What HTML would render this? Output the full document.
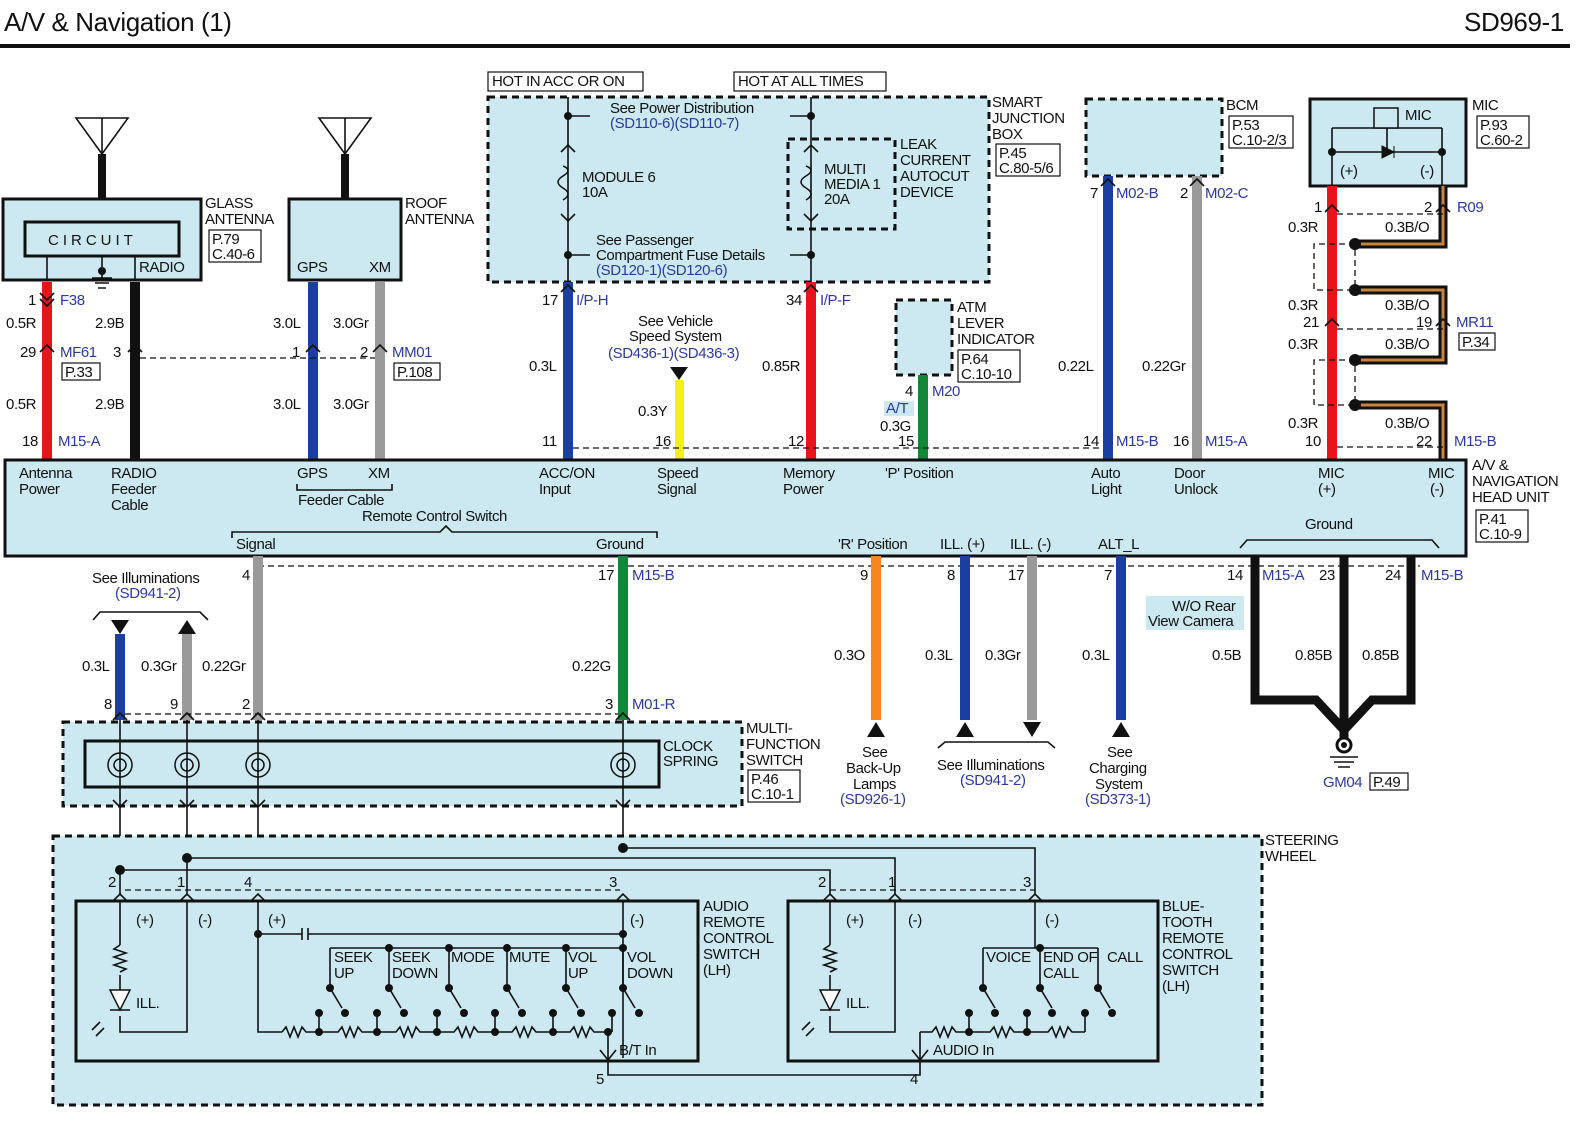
<!DOCTYPE html>
<html><head><meta charset="utf-8"><style>
html,body{margin:0;padding:0;background:#fff}
svg{display:block}
text{font-family:"Liberation Sans",sans-serif;font-size:15px;fill:#111;letter-spacing:-0.4px}
.b{fill:#2b3a9c}
.box{fill:#cce8f0;stroke:#111;stroke-width:3}
.dbox{fill:#cce8f0;stroke:#111;stroke-width:3;stroke-dasharray:7,5}
.ref{fill:#fff;stroke:#111;stroke-width:1.2}
.dl{stroke:#111;stroke-width:1.3;stroke-dasharray:6,4;fill:none}
.ln{stroke:#111;stroke-width:1.6;fill:none}
.ch{stroke:#111;stroke-width:1.6;fill:none}
</style></head><body>
<svg width="1582" height="1130" viewBox="0 0 1582 1130" xmlns="http://www.w3.org/2000/svg">
<text x="4" y="31" style="font-size:26px">A/V &amp; Navigation (1)</text>
<text x="1464" y="31" style="font-size:26px">SD969-1</text>
<rect x="0" y="44" width="1570" height="4" fill="#111"/>

<!-- Glass antenna -->
<path d="M76 118 L102 154 L128 118 Z M102 118 V154" class="ln" stroke-width="2.5"/>
<rect x="98" y="154" width="8" height="44" fill="#111"/>
<rect x="3" y="199" width="198" height="81" class="box"/>
<rect x="25" y="222" width="154" height="34" class="box" stroke-width="2"/>
<text x="48" y="245" style="letter-spacing:4px">CIRCUIT</text>
<text x="139" y="272">RADIO</text>
<path d="M47 256 V280 M135 256 V280 M102 256 V278 M92 278 H112 M95 283 H109 M98 288 H106" class="ln"/>
<circle cx="102" cy="271" r="4" fill="#111"/>
<text x="205" y="208">GLASS</text><text x="205" y="224">ANTENNA</text>
<rect x="209" y="230" width="52" height="32" class="ref"/><text x="212" y="244">P.79</text><text x="212" y="259">C.40-6</text>

<!-- Roof antenna -->
<path d="M319 118 L345 154 L371 118 Z M345 118 V154" class="ln" stroke-width="2.5"/>
<rect x="341" y="154" width="8" height="44" fill="#111"/>
<rect x="289" y="199" width="112" height="81" class="box"/>
<text x="297" y="272">GPS</text><text x="369" y="272">XM</text>
<text x="405" y="208">ROOF</text><text x="405" y="224">ANTENNA</text>

<!-- wires top left -->
<rect x="42" y="282" width="10" height="178" fill="#e8141c"/>
<rect x="130" y="282" width="10" height="178" fill="#111"/>
<rect x="308" y="282" width="10" height="178" fill="#1a3fa0"/>
<rect x="375" y="282" width="10" height="178" fill="#9a9a9a"/>
<path d="M140 358 H375" class="dl"/>
<text x="28" y="305">1</text><text x="60" y="305" class="b">F38</text>
<text x="6" y="328">0.5R</text><text x="95" y="328">2.9B</text>
<text x="20" y="357">29</text><text x="60" y="357" class="b">MF61</text><text x="113" y="357">3</text>
<rect x="62" y="363" width="38" height="17" class="ref"/><text x="65" y="377">P.33</text>
<text x="6" y="409">0.5R</text><text x="95" y="409">2.9B</text>
<text x="22" y="446">18</text><text x="58" y="446" class="b">M15-A</text>
<text x="273" y="328">3.0L</text><text x="333" y="328">3.0Gr</text>
<text x="292" y="357">1</text><text x="360" y="357">2</text><text x="392" y="357" class="b">MM01</text>
<rect x="394" y="363" width="46" height="17" class="ref"/><text x="397" y="377">P.108</text>
<text x="273" y="409">3.0L</text><text x="333" y="409">3.0Gr</text>

<!-- Smart junction box -->
<rect x="488" y="72" width="155" height="19" class="ref"/><text x="492" y="86">HOT IN ACC OR ON</text>
<rect x="734" y="72" width="152" height="19" class="ref"/><text x="738" y="86">HOT AT ALL TIMES</text>
<rect x="488" y="97" width="501" height="185" class="dbox"/>
<rect x="788" y="139" width="107" height="90" class="dbox" stroke-width="2"/>
<path d="M568 97 V282 M811 97 V282 M568 116 H590 M811 116 H790 M568 255 H590 M811 255 H790" class="ln"/>
<circle cx="568" cy="116" r="4" fill="#111"/><circle cx="811" cy="116" r="4" fill="#111"/>
<circle cx="568" cy="255" r="4" fill="#111"/><circle cx="811" cy="255" r="4" fill="#111"/>
<text x="610" y="113">See Power Distribution</text><text x="610" y="128" class="b">(SD110-6)(SD110-7)</text>
<text x="582" y="182">MODULE 6</text><text x="582" y="197">10A</text>
<text x="824" y="174">MULTI</text><text x="824" y="189">MEDIA 1</text><text x="824" y="204">20A</text>
<text x="900" y="149">LEAK</text><text x="900" y="165">CURRENT</text><text x="900" y="181">AUTOCUT</text><text x="900" y="197">DEVICE</text>
<text x="596" y="245">See Passenger</text><text x="596" y="260">Compartment Fuse Details</text><text x="596" y="275" class="b">(SD120-1)(SD120-6)</text>
<text x="992" y="107">SMART</text><text x="992" y="123">JUNCTION</text><text x="992" y="139">BOX</text>
<rect x="996" y="144" width="64" height="32" class="ref"/><text x="999" y="158">P.45</text><text x="999" y="173">C.80-5/6</text>

<rect x="563" y="282" width="10" height="178" fill="#1a3fa0"/>
<rect x="806" y="282" width="10" height="178" fill="#e8141c"/>
<text x="542" y="305">17</text><text x="576" y="305" class="b">I/P-H</text>
<text x="786" y="305">34</text><text x="820" y="305" class="b">I/P-F</text>
<text x="529" y="371">0.3L</text><text x="762" y="371">0.85R</text>
<text x="542" y="446">11</text><text x="788" y="446">12</text>
<text x="638" y="326">See Vehicle</text><text x="629" y="341">Speed System</text><text x="608" y="358" class="b">(SD436-1)(SD436-3)</text>
<path d="M670 367 H688 L679 380 Z" fill="#111"/>
<rect x="675" y="380" width="9" height="80" fill="#f4ee1a"/>
<text x="638" y="416">0.3Y</text><text x="655" y="446">16</text>

<!-- ATM -->
<rect x="896" y="300" width="56" height="75" class="dbox"/>
<text x="957" y="312">ATM</text><text x="957" y="328">LEVER</text><text x="957" y="344">INDICATOR</text>
<rect x="958" y="350" width="62" height="32" class="ref"/><text x="961" y="364">P.64</text><text x="961" y="379">C.10-10</text>
<rect x="918" y="375" width="10" height="85" fill="#12873a"/>
<text x="905" y="396">4</text><text x="932" y="396" class="b">M20</text>
<rect x="884" y="401" width="30" height="15" fill="#cce8f0"/><text x="886" y="413" class="b">A/T</text>
<text x="880" y="431">0.3G</text><text x="898" y="446">15</text>

<!-- BCM -->
<rect x="1086" y="99" width="136" height="77" class="dbox"/>
<text x="1226" y="110">BCM</text>
<rect x="1229" y="116" width="64" height="32" class="ref"/><text x="1232" y="130">P.53</text><text x="1232" y="145">C.10-2/3</text>
<rect x="1103" y="176" width="10" height="284" fill="#1a3fa0"/>
<rect x="1192" y="176" width="10" height="284" fill="#9a9a9a"/>
<text x="1090" y="198">7</text><text x="1116" y="198" class="b">M02-B</text>
<text x="1180" y="198">2</text><text x="1205" y="198" class="b">M02-C</text>
<text x="1058" y="371">0.22L</text><text x="1142" y="371">0.22Gr</text>
<text x="1083" y="446">14</text><text x="1116" y="446" class="b">M15-B</text>
<text x="1173" y="446">16</text><text x="1205" y="446" class="b">M15-A</text>
<path d="M573 448 H1100" class="dl"/>

<!-- MIC -->
<rect x="1310" y="99" width="156" height="87" class="box"/>
<path d="M1332 152 H1442 M1332 152 V186 M1442 152 V186 M1387 152 V128 M1332 128 H1442 M1332 128 V152 M1442 128 V152" class="ln"/>
<rect x="1374" y="108" width="24" height="20" fill="#cce8f0" stroke="#111" stroke-width="1.5"/>
<path d="M1382 146 L1394 152 L1382 158 Z M1394 146 V158" fill="#111" stroke="#111"/>
<circle cx="1332" cy="152" r="4" fill="#111"/><circle cx="1442" cy="152" r="4" fill="#111"/>
<text x="1405" y="120">MIC</text><text x="1340" y="176">(+)</text><text x="1420" y="176">(-)</text>
<text x="1472" y="110">MIC</text>
<rect x="1477" y="116" width="52" height="32" class="ref"/><text x="1480" y="130">P.93</text><text x="1480" y="145">C.60-2</text>
<rect x="1327" y="186" width="10" height="274" fill="#e8141c"/>
<path d="M1355 244 H1443 V186 M1355 290 H1443 V322 M1443 322 V360 H1355 M1355 405 H1443 V460" stroke="#111" stroke-width="9" fill="none"/>
<path d="M1355 244 H1443 V186 M1355 290 H1443 V322 M1443 322 V360 H1355 M1355 405 H1443 V460" stroke="#c8843c" stroke-width="3" fill="none"/>
<circle cx="1355" cy="244" r="6" fill="#111"/><circle cx="1355" cy="290" r="6" fill="#111"/><circle cx="1355" cy="360" r="6" fill="#111"/><circle cx="1355" cy="405" r="6" fill="#111"/>
<path d="M1355 244 H1314 V290 H1355 M1355 250 V290 M1355 360 H1314 V405 H1355 M1355 366 V405 M1337 214 H1443 M1337 329 H1443 M1337 447 H1443" class="dl"/>
<text x="1314" y="212">1</text><text x="1424" y="212">2</text><text x="1457" y="212" class="b">R09</text>
<text x="1288" y="232">0.3R</text><text x="1385" y="232">0.3B/O</text>
<text x="1288" y="310">0.3R</text><text x="1385" y="310">0.3B/O</text>
<text x="1303" y="327">21</text><text x="1416" y="327">19</text><text x="1456" y="327" class="b">MR11</text>
<rect x="1459" y="333" width="36" height="17" class="ref"/><text x="1462" y="347">P.34</text>
<text x="1288" y="349">0.3R</text><text x="1385" y="349">0.3B/O</text>
<text x="1288" y="428">0.3R</text><text x="1385" y="428">0.3B/O</text>
<text x="1305" y="446">10</text><text x="1416" y="446">22</text><text x="1454" y="446" class="b">M15-B</text>

<!-- Head unit -->
<rect x="5" y="460" width="1461" height="96" class="box"/>
<g>
<text x="19" y="478">Antenna</text><text x="19" y="494">Power</text>
<text x="111" y="478">RADIO</text><text x="111" y="494">Feeder</text><text x="111" y="510">Cable</text>
<text x="297" y="478">GPS</text><text x="368" y="478">XM</text>
<path d="M297 484 V490 H392 V484" class="ln" stroke-width="1"/><text x="298" y="505">Feeder Cable</text>
<text x="539" y="478">ACC/ON</text><text x="539" y="494">Input</text>
<text x="657" y="478">Speed</text><text x="657" y="494">Signal</text>
<text x="783" y="478">Memory</text><text x="783" y="494">Power</text>
<text x="885" y="478">'P' Position</text>
<text x="1091" y="478">Auto</text><text x="1091" y="494">Light</text>
<text x="1174" y="478">Door</text><text x="1174" y="494">Unlock</text>
<text x="1318" y="478">MIC</text><text x="1318" y="494">(+)</text>
<text x="1428" y="478">MIC</text><text x="1430" y="494">(-)</text>
<text x="362" y="521">Remote Control Switch</text>
<path d="M232 538 V532 H440 L446 526 L452 532 H657 V538" class="ln" stroke-width="1"/>
<text x="236" y="549">Signal</text><text x="596" y="549">Ground</text>
<text x="838" y="549">'R' Position</text><text x="940" y="549">ILL. (+)</text><text x="1010" y="549">ILL. (-)</text><text x="1098" y="549">ALT_L</text>
<text x="1305" y="529">Ground</text>
<path d="M1240 548 L1247 540 H1432 L1439 548" class="ln" stroke-width="1"/>
</g>
<text x="1472" y="470">A/V &amp;</text><text x="1472" y="486">NAVIGATION</text><text x="1472" y="502">HEAD UNIT</text>
<rect x="1476" y="510" width="52" height="32" class="ref"/><text x="1479" y="524">P.41</text><text x="1479" y="539">C.10-9</text>

<!-- lower wires -->
<path d="M258 566 H1420" class="dl"/>
<rect x="253" y="556" width="10" height="164" fill="#9a9a9a"/>
<rect x="618" y="556" width="10" height="164" fill="#12873a"/>
<rect x="871" y="556" width="10" height="164" fill="#f7861e"/>
<rect x="960" y="556" width="10" height="164" fill="#1a3fa0"/>
<rect x="1027" y="556" width="10" height="164" fill="#9a9a9a"/>
<rect x="1116" y="556" width="10" height="164" fill="#1a3fa0"/>
<path d="M111 620 H129 L120 634 Z" fill="#111"/>
<path d="M178 634 H196 L187 620 Z" fill="#111"/>
<rect x="115" y="634" width="10" height="86" fill="#1a3fa0"/>
<rect x="182" y="634" width="10" height="86" fill="#9a9a9a"/>
<text x="92" y="583">See Illuminations</text><text x="115" y="598" class="b">(SD941-2)</text>
<path d="M93 620 L100 612 H200 L208 620" class="ln" stroke-width="1"/>
<text x="82" y="671">0.3L</text><text x="141" y="671">0.3Gr</text><text x="202" y="671">0.22Gr</text><text x="572" y="671">0.22G</text>
<text x="242" y="580">4</text><text x="598" y="580">17</text><text x="632" y="580" class="b">M15-B</text>
<text x="104" y="709">8</text><text x="170" y="709">9</text><text x="242" y="709">2</text><text x="605" y="709">3</text><text x="632" y="709" class="b">M01-R</text>
<path d="M125 714 H618" class="dl"/>
<text x="860" y="580">9</text><text x="947" y="580">8</text><text x="1008" y="580">17</text><text x="1104" y="580">7</text>
<text x="834" y="660">0.3O</text><text x="925" y="660">0.3L</text><text x="985" y="660">0.3Gr</text><text x="1082" y="660">0.3L</text>
<path d="M867 737 H885 L876 722 Z M956 737 H974 L965 722 Z M1023 722 H1041 L1032 737 Z M1112 737 H1130 L1121 722 Z" fill="#111"/>
<text x="862" y="757">See</text><text x="846" y="773">Back-Up</text><text x="853" y="789">Lamps</text><text x="840" y="804" class="b">(SD926-1)</text>
<path d="M938 748 L945 742 H1048 L1055 748" class="ln" stroke-width="1"/>
<text x="937" y="770">See Illuminations</text><text x="960" y="785" class="b">(SD941-2)</text>
<text x="1107" y="757">See</text><text x="1089" y="773">Charging</text><text x="1095" y="789">System</text><text x="1085" y="804" class="b">(SD373-1)</text>

<!-- ground -->
<path d="M1255 556 V700 H1316 L1344 730 M1344 556 V740 M1411 556 V700 H1372 L1344 730" stroke="#111" stroke-width="9" fill="none"/>
<circle cx="1344" cy="745" r="7" fill="#fff" stroke="#111" stroke-width="3"/><circle cx="1344" cy="745" r="3" fill="#111"/>
<path d="M1330 757 H1358 M1334 762 H1354 M1338 767 H1350" class="ln"/>
<text x="1227" y="580">14</text><text x="1262" y="580" class="b">M15-A</text><text x="1319" y="580">23</text><text x="1385" y="580">24</text><text x="1421" y="580" class="b">M15-B</text>
<rect x="1146" y="596" width="98" height="34" fill="#cce8f0"/><text x="1172" y="611">W/O Rear</text><text x="1148" y="626">View Camera</text>
<text x="1212" y="660">0.5B</text><text x="1295" y="660">0.85B</text><text x="1362" y="660">0.85B</text>
<text x="1323" y="787" class="b">GM04</text><rect x="1370" y="773" width="38" height="17" class="ref"/><text x="1373" y="787">P.49</text>

<!-- Multifunction switch -->
<rect x="63" y="722" width="679" height="84" class="dbox"/>
<rect x="85" y="741" width="574" height="46" class="box" stroke-width="2.5"/>
<g class="ln">
<path d="M120 720 V870 M187 720 V860 M258 720 V895 M623 720 V895"/>
</g>
<g fill="none" stroke="#111" stroke-width="1.5">
<circle cx="120" cy="765" r="12"/><circle cx="120" cy="765" r="6"/>
<circle cx="187" cy="765" r="12"/><circle cx="187" cy="765" r="6"/>
<circle cx="258" cy="765" r="12"/><circle cx="258" cy="765" r="6"/>
<circle cx="623" cy="765" r="12"/><circle cx="623" cy="765" r="6"/>
</g>
<text x="663" y="751">CLOCK</text><text x="663" y="766">SPRING</text>
<text x="746" y="733">MULTI-</text><text x="746" y="749">FUNCTION</text><text x="746" y="765">SWITCH</text>
<rect x="748" y="770" width="52" height="32" class="ref"/><text x="751" y="784">P.46</text><text x="751" y="799">C.10-1</text>

<!-- Steering wheel -->
<rect x="53" y="836" width="1209" height="269" class="dbox"/>
<text x="1265" y="845">STEERING</text><text x="1265" y="861">WHEEL</text>
<g class="ln">
<path d="M120 870 H830 V895 M187 858 H895 V895 M623 848 H1035 V895 M120 870 V895 M187 858 V895"/>
</g>
<circle cx="120" cy="870" r="5" fill="#111"/><circle cx="187" cy="858" r="5" fill="#111"/><circle cx="623" cy="848" r="5" fill="#111"/>
<path d="M125 890 H620 M830 890 H1035" class="dl"/>
<text x="108" y="887">2</text><text x="177" y="887">1</text><text x="244" y="887">4</text><text x="609" y="887">3</text>
<text x="818" y="887">2</text><text x="888" y="887">1</text><text x="1023" y="887">3</text>

<rect x="76" y="901" width="622" height="160" class="box" fill="none"/>
<rect x="788" y="901" width="370" height="160" class="box" fill="none"/>
<g class="ln" stroke-width="1.4">
<path d="M120 901 V945 M120 975 V990 M120 1016 V1032 H187 V901"/>
<path d="M120 945 l-6 4 l12 4 l-12 4 l12 4 l-12 4 l12 4 l-6 3"/>
<path d="M258 901 V1032 H282 M258 934 H302 M308 934 H623 M623 901 V1058 M330 948 H623"/>
<path d="M302 928 V940 M308 928 V940"/>
<path d="M608 1032 V1060 M600 1050 L608 1060 L616 1050 M608 1060 V1075 H920 V1060 M912 1050 L920 1060 L928 1050"/>
<path d="M830 901 V945 M830 975 V990 M830 1016 V1032 H895 V901"/>
<path d="M830 945 l-6 4 l12 4 l-12 4 l12 4 l-12 4 l12 4 l-6 3"/>
<path d="M1035 901 V948 H983 M1035 948 H1098"/>
<path d="M920 1032 V1060"/>
</g>
<path d="M110 990 H130 L120 1010 Z" fill="#fff" stroke="#111" stroke-width="1.5"/><path d="M110 1010 H130" class="ln"/>
<path d="M92 1030 l8 -8 M96 1036 l8 -8" class="ln" stroke-width="1"/>
<path d="M820 990 H840 L830 1010 Z" fill="#fff" stroke="#111" stroke-width="1.5"/><path d="M820 1010 H840" class="ln"/>
<path d="M802 1030 l8 -8 M806 1036 l8 -8" class="ln" stroke-width="1"/>
<text x="136" y="925">(+)</text><text x="198" y="925">(-)</text><text x="136" y="1008">ILL.</text>
<text x="268" y="925">(+)</text><text x="630" y="925">(-)</text>
<text x="846" y="925">(+)</text><text x="908" y="925">(-)</text><text x="1045" y="925">(-)</text><text x="846" y="1008">ILL.</text>
<circle cx="258" cy="934" r="4" fill="#111"/><circle cx="623" cy="934" r="4" fill="#111"/>
<!-- audio switches -->
<g class="ln" stroke-width="1.4">
<path d="M282 1032 l4 -5 l4 10 l4 -10 l4 10 l4 -10 l4 5 H338 l4 -5 l4 10 l4 -10 l4 10 l4 -10 l4 5 H396 l4 -5 l4 10 l4 -10 l4 10 l4 -10 l4 5 H454 l4 -5 l4 10 l4 -10 l4 10 l4 -10 l4 5 H512 l4 -5 l4 10 l4 -10 l4 10 l4 -10 l4 5 H570 l4 -5 l4 10 l4 -10 l4 10 l4 -10 l4 5 H608"/>
<path d="M330 948 V988 l12 20 M389 948 V988 l12 20 M449 948 V988 l12 20 M507 948 V988 l12 20 M566 948 V988 l12 20 M623 948 V988 l12 20"/>
<path d="M319 1015 V1032 M377 1015 V1032 M437 1015 V1032 M495 1015 V1032 M553 1015 V1032 M612 1015 V1032"/>
</g>
<g fill="#111">
<circle cx="330" cy="988" r="4"/><circle cx="389" cy="988" r="4"/><circle cx="449" cy="988" r="4"/><circle cx="507" cy="988" r="4"/><circle cx="566" cy="988" r="4"/><circle cx="623" cy="988" r="4"/>
<circle cx="319" cy="1013" r="4"/><circle cx="345" cy="1013" r="4"/><circle cx="377" cy="1013" r="4"/><circle cx="404" cy="1013" r="4"/><circle cx="437" cy="1013" r="4"/><circle cx="464" cy="1013" r="4"/><circle cx="495" cy="1013" r="4"/><circle cx="522" cy="1013" r="4"/><circle cx="553" cy="1013" r="4"/><circle cx="581" cy="1013" r="4"/><circle cx="612" cy="1013" r="4"/><circle cx="639" cy="1013" r="4"/>
<circle cx="319" cy="1032" r="4"/><circle cx="377" cy="1032" r="4"/><circle cx="437" cy="1032" r="4"/><circle cx="495" cy="1032" r="4"/><circle cx="553" cy="1032" r="4"/><circle cx="608" cy="1032" r="4"/>
<circle cx="389" cy="948" r="4"/><circle cx="449" cy="948" r="4"/><circle cx="507" cy="948" r="4"/><circle cx="566" cy="948" r="4"/><circle cx="623" cy="948" r="4"/>
</g>
<text x="334" y="962">SEEK</text><text x="334" y="978">UP</text>
<text x="392" y="962">SEEK</text><text x="392" y="978">DOWN</text>
<text x="451" y="962">MODE</text><text x="509" y="962">MUTE</text>
<text x="568" y="962">VOL</text><text x="568" y="978">UP</text>
<text x="627" y="962">VOL</text><text x="627" y="978">DOWN</text>
<text x="619" y="1055">B/T In</text>
<text x="596" y="1084">5</text><text x="910" y="1084">4</text>
<text x="703" y="911">AUDIO</text><text x="703" y="927">REMOTE</text><text x="703" y="943">CONTROL</text><text x="703" y="959">SWITCH</text><text x="703" y="975">(LH)</text>
<!-- BT switches -->
<g class="ln" stroke-width="1.4">
<path d="M920 1032 H932 l4 -5 l4 10 l4 -10 l4 10 l4 -10 l4 5 H990 l4 -5 l4 10 l4 -10 l4 10 l4 -10 l4 5 H1048 l4 -5 l4 10 l4 -10 l4 10 l4 -10 l4 5 H1085"/>
<path d="M983 948 V988 l12 20 M1040 948 V988 l12 20 M1098 948 V988 l12 20 M969 1015 V1032 M1027 1015 V1032 M1085 1015 V1032"/>
</g>
<g fill="#111"><circle cx="983" cy="988" r="4"/><circle cx="1040" cy="988" r="4"/><circle cx="1098" cy="988" r="4"/><circle cx="969" cy="1013" r="4"/><circle cx="1027" cy="1013" r="4"/><circle cx="1085" cy="1013" r="4"/><circle cx="995" cy="1013" r="4"/><circle cx="1052" cy="1013" r="4"/><circle cx="1112" cy="1013" r="4"/><circle cx="969" cy="1032" r="4"/><circle cx="1027" cy="1032" r="4"/><circle cx="1040" cy="948" r="4"/></g>
<text x="986" y="962">VOICE</text><text x="1043" y="962">END OF</text><text x="1043" y="978">CALL</text><text x="1107" y="962">CALL</text>
<text x="933" y="1055">AUDIO In</text>
<text x="1162" y="911">BLUE-</text><text x="1162" y="927">TOOTH</text><text x="1162" y="943">REMOTE</text><text x="1162" y="959">CONTROL</text><text x="1162" y="975">SWITCH</text><text x="1162" y="991">(LH)</text>

<!-- connector chevrons -->
<g class="ch" stroke="#111">
<path d="M40 293 l7 7 l7 -7 M40 299 l7 7 l7 -7"/>
<path d="M40 352 l7 -7 l7 7 M128 352 l7 -7 l7 7 M306 352 l7 -7 l7 7 M373 352 l7 -7 l7 7"/>
<path d="M561 292 l7 -7 l7 7 M804 292 l7 -7 l7 7 M1101 186 l7 -7 l7 7 M1190 186 l7 -7 l7 7 M1325 212 l7 -7 l7 7 M1436 212 l7 -7 l7 7 M1325 326 l7 -7 l7 7 M1436 326 l7 -7 l7 7"/>
<path d="M561 152 l7 -7 l7 7 M561 214 l7 7 l7 -7 M804 152 l7 -7 l7 7 M804 214 l7 7 l7 -7"/>
<path d="M113 720 l7 -7 l7 7 M180 720 l7 -7 l7 7 M251 720 l7 -7 l7 7 M616 720 l7 -7 l7 7"/>
<path d="M113 800 l7 7 l7 -7 M180 800 l7 7 l7 -7 M251 800 l7 7 l7 -7 M616 800 l7 7 l7 -7"/>
<path d="M113 901 l7 -7 l7 7 M180 901 l7 -7 l7 7 M251 901 l7 -7 l7 7 M616 901 l7 -7 l7 7 M823 901 l7 -7 l7 7 M888 901 l7 -7 l7 7 M1028 901 l7 -7 l7 7"/>
</g>
<path d="M563 166 q10 4 0 10 q-10 6 0 12 q10 6 0 12 M806 166 q10 4 0 10 q-10 6 0 12 q10 6 0 12" stroke="#111" stroke-width="1.5" fill="none"/>
</svg>
</body></html>
